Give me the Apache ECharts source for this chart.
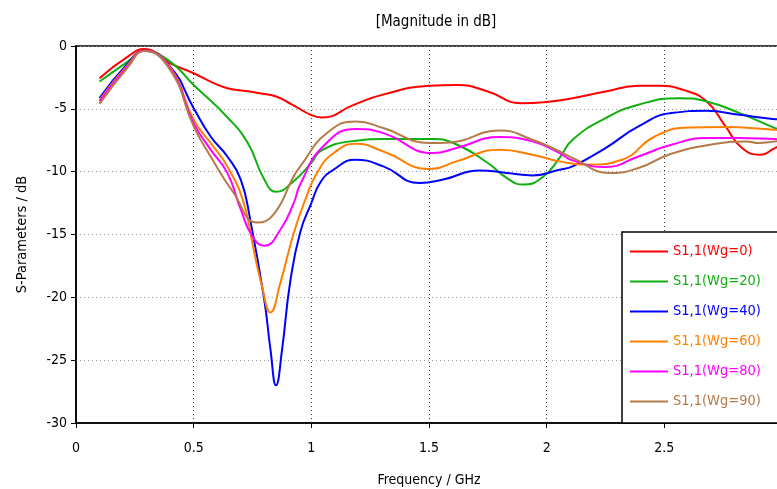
<!DOCTYPE html>
<html>
<head>
<meta charset="utf-8">
<script src="https://cdn.jsdelivr.net/npm/echarts@6/dist/echarts.min.js"></script>
<style>
  html, body { margin: 0; padding: 0; background: #fff; }
  #chart { width: 777px; height: 489px; }
</style>
</head>
<body>
<div id="chart"></div>
<script>
// S1,1 magnitude curves, [frequency GHz, dB]
const s11Wg0 = [
  [0.1, -2.56], [0.22, -0.85], [0.29, -0.24], [0.4, -1.38], [0.5, -2.17], [0.572, -2.83],
  [0.643, -3.36], [0.73, -3.6], [0.78, -3.76], [0.85, -4.02], [0.92, -4.68], [1.0, -5.5],
  [1.045, -5.69], [1.18, -4.68], [1.3, -3.89], [1.5, -3.17], [1.62, -3.1], [1.75, -3.62],
  [1.89, -4.55], [2.0, -4.45], [2.11, -4.15], [2.25, -3.62], [2.39, -3.17], [2.48, -3.17],
  [2.58, -3.49], [2.68, -4.42], [2.76, -6.4], [2.83, -8.12], [2.91, -8.65], [2.97, -8.12], [3.0, -7.9]
];
const s11Wg20 = [
  [0.1, -2.83], [0.22, -1.24], [0.29, -0.37], [0.4, -1.24], [0.5, -3.1], [0.64, -5.61],
  [0.73, -7.72], [0.8, -10.63], [0.85, -11.6], [0.925, -10.76], [1.0, -9.3], [1.04, -8.35],
  [1.165, -7.59], [1.31, -7.41], [1.52, -7.41], [1.62, -7.86], [1.75, -9.31], [1.83, -10.5],
  [1.9, -11.03], [1.985, -10.4], [2.055, -8.9], [2.11, -7.46], [2.25, -5.74], [2.39, -4.68],
  [2.56, -4.15], [2.68, -4.42], [2.82, -5.34], [2.97, -6.53], [3.0, -6.7]
];
const s11Wg40 = [
  [0.1, -4.15], [0.22, -1.38], [0.29, -0.37], [0.4, -1.64], [0.5, -4.95], [0.572, -7.2],
  [0.643, -8.79], [0.7, -10.63], [0.74, -13.8], [0.8, -20.2], [0.826, -24.1], [0.85, -27.0],
  [0.876, -24.1], [0.91, -18.8], [0.953, -14.8], [1.0, -12.5], [1.04, -10.8], [1.095, -9.84],
  [1.186, -9.05], [1.306, -9.58], [1.46, -10.9], [1.56, -10.63], [1.716, -9.9], [1.83, -10.1],
  [1.94, -10.3], [2.055, -9.84], [2.11, -9.58], [2.25, -8.12], [2.39, -6.4], [2.53, -5.34],
  [2.68, -5.16], [2.82, -5.48], [2.97, -5.82], [3.0, -5.85]
];
const s11Wg60 = [
  [0.1, -4.3], [0.22, -1.5], [0.29, -0.37], [0.4, -1.7], [0.5, -5.87], [0.572, -7.72],
  [0.643, -9.58], [0.713, -12.5], [0.755, -16.2], [0.79, -19.1], [0.826, -21.2], [0.869, -18.8],
  [0.925, -14.9], [0.975, -12.2], [1.024, -10.1], [1.095, -8.52], [1.19, -7.78], [1.306, -8.39],
  [1.504, -9.79], [1.617, -9.18], [1.8, -8.25], [1.94, -8.65], [2.055, -9.18], [2.18, -9.44],
  [2.32, -9.05], [2.46, -7.2], [2.61, -6.48], [2.75, -6.45], [2.97, -6.67], [3.0, -6.7]
];
const s11Wg80 = [
  [0.1, -4.4], [0.22, -1.6], [0.29, -0.37], [0.4, -1.8], [0.5, -6.14], [0.572, -8.25],
  [0.643, -10.1], [0.7, -13.0], [0.748, -15.1], [0.8, -15.9], [0.869, -14.6], [0.925, -12.5],
  [0.953, -11.0], [1.05, -8.0], [1.19, -6.6], [1.306, -6.93], [1.518, -8.52], [1.617, -8.12],
  [1.8, -7.25], [1.94, -7.59], [2.055, -8.52], [2.11, -9.1], [2.25, -9.63], [2.39, -8.79],
  [2.53, -7.86], [2.68, -7.33], [2.82, -7.33], [2.97, -7.41], [3.0, -7.42]
];
const s11Wg90 = [
  [0.1, -4.6], [0.22, -1.7], [0.29, -0.4], [0.4, -1.9], [0.5, -6.4], [0.572, -8.79],
  [0.67, -11.7], [0.77, -14.05], [0.84, -13.4], [0.925, -10.37], [0.953, -9.58], [1.066, -6.93],
  [1.19, -6.0], [1.306, -6.53], [1.504, -7.72], [1.59, -7.67], [1.8, -6.72], [1.94, -7.46],
  [2.055, -8.39], [2.11, -8.91], [2.27, -10.1], [2.39, -9.71], [2.53, -8.57], [2.72, -7.78],
  [2.85, -7.59], [2.9, -7.72], [2.97, -7.59], [3.0, -7.55]
];

const seriesNames = ["S1,1(Wg=0)", "S1,1(Wg=20)", "S1,1(Wg=40)", "S1,1(Wg=60)", "S1,1(Wg=80)", "S1,1(Wg=90)"];
const seriesData = [s11Wg0, s11Wg20, s11Wg40, s11Wg60, s11Wg80, s11Wg90];
const seriesColors = ["#ff0000", "#10b010", "#0000ff", "#ff8000", "#ff00ff", "#b47a48"];

const fontFamily = "'DejaVu Sans Condensed', 'Liberation Sans', sans-serif";

const chart = echarts.init(document.getElementById("chart"), null, { renderer: "canvas" });

chart.setOption({
  animation: false,
  backgroundColor: "#fff",
  textStyle: { fontFamily: fontFamily },
  title: {
    text: "[Magnitude in dB]",
    left: 431,
    textAlign: "center",
    top: 10,
    textStyle: { fontSize: 15, fontWeight: "normal", color: "#000", fontFamily: fontFamily }
  },
  grid: {
    left: 76, top: 46, right: -5, bottom: 66,
    outerBoundsMode: "none",
    show: true, borderColor: "#000", borderWidth: 1.5, backgroundColor: "#fff"
  },
  legend: {
    orient: "vertical",
    left: 622, top: 232,
    padding: [12, 30, 14, 8],
    // plain line swatch, no marker
    icon: "path://M0,0H38V2H0Z",
    symbolKeepAspect: true,
    itemWidth: 38, itemHeight: 14, itemGap: 15,
    backgroundColor: "#fff",
    borderColor: "#000", borderWidth: 1.5,
    data: seriesNames.map((n, i) => ({ name: n, textStyle: { color: seriesColors[i] } })),
    textStyle: { fontSize: 14.5, fontFamily: fontFamily }
  },
  xAxis: {
    type: "value",
    min: 0, max: 3, interval: 0.5,
    name: "Frequency / GHz",
    nameLocation: "middle",
    nameGap: 50,
    nameTextStyle: { fontSize: 14, color: "#000", fontFamily: fontFamily },
    axisLine: { show: true, onZero: false, lineStyle: { color: "#000", width: 1.5 } },
    axisTick: { show: true, inside: false, length: 5, lineStyle: { color: "#000" } },
    axisLabel: {
      color: "#000", fontSize: 14, margin: 18, fontFamily: fontFamily,
      formatter: v => (v >= 3 ? "" : String(v))
    },
    splitLine: { show: true, lineStyle: { color: "#333", type: [1, 3], width: 1 } }
  },
  yAxis: {
    type: "value",
    min: -30, max: 0, interval: 5,
    name: "S-Parameters / dB",
    nameLocation: "middle",
    nameGap: 46,
    nameTextStyle: { fontSize: 14.5, color: "#000", fontFamily: fontFamily },
    axisLine: { show: true, onZero: false, lineStyle: { color: "#000", width: 1.5 } },
    axisTick: { show: true, inside: false, length: 5, lineStyle: { color: "#000" } },
    axisLabel: { color: "#000", fontSize: 14, margin: 9, fontFamily: fontFamily },
    splitLine: { show: true, lineStyle: { color: "#999", type: [1, 3], width: 1 } }
  },
  series: seriesNames.map((n, i) => ({
    name: n,
    type: "line",
    data: seriesData[i],
    smooth: 0.5,
    symbol: "none",
    color: seriesColors[i],
    lineStyle: { width: 2, color: seriesColors[i] }
  }))
});
</script>
</body>
</html>
